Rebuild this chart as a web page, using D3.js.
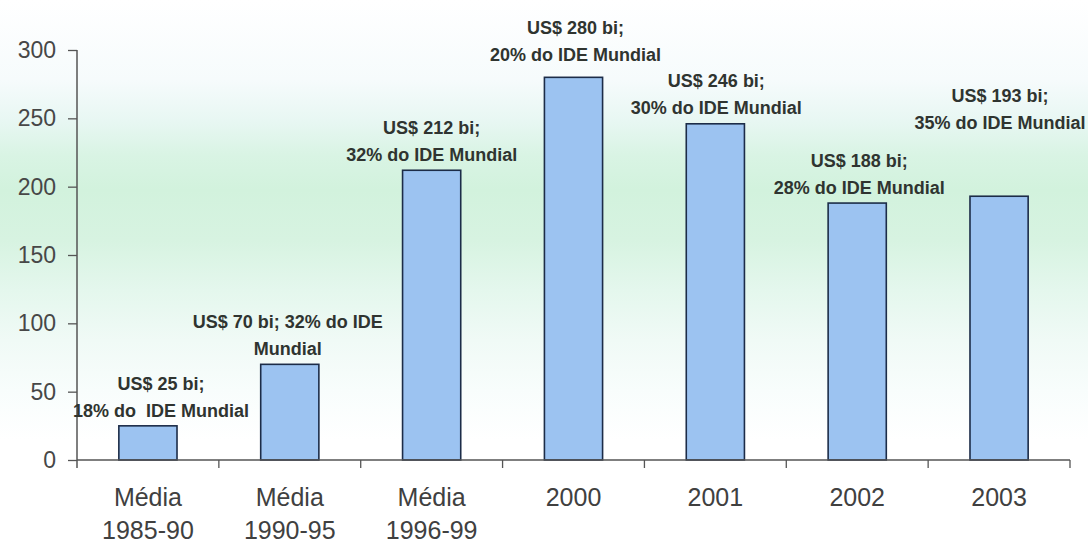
<!DOCTYPE html>
<html>
<head>
<meta charset="utf-8">
<script src="https://cdn.jsdelivr.net/npm/d3@7"></script>
<style>
  html, body { margin: 0; padding: 0; background: #fff; }
  svg { display: block; }
  text { white-space: pre; }
</style>
</head>
<body>
<svg id="chart" width="1088" height="544"></svg>
<script>
// ---- data ----
const categories = ["Média 1985-90", "Média 1990-95", "Média 1996-99", "2000", "2001", "2002", "2003"];
const catLine1 = ["Média", "Média", "Média", "2000", "2001", "2002", "2003"];
const catLine2 = ["1985-90", "1990-95", "1996-99", "", "", "", ""];
const values = [25, 70, 212, 280, 246, 188, 193];
const labelLine1 = ["US$ 25 bi;", "US$ 70 bi; 32% do IDE", "US$ 212 bi;", "US$ 280 bi;", "US$ 246 bi;", "US$ 188 bi;", "US$ 193 bi;"];
const labelLine2 = ["18% do  IDE Mundial", "Mundial", "32% do IDE Mundial", "20% do IDE Mundial", "30% do IDE Mundial", "28% do IDE Mundial", "35% do IDE Mundial"];
const yTicks = [0, 50, 100, 150, 200, 250, 300];

// ---- layout (label placement tweaks, not data) ----
const labelDx = [13, -2, 0, 2, 1, 2, 1];
const labelLift = [0, 0, 0, 7, 1, 0, 58];

(function () {
const svg = d3.select("#chart");
const W = 1088, H = 544;
const mLeft = 77, mRight = 1070, mTop = 50, mBottom = 460;

// background gradient
const defs = svg.append("defs");
const grad = defs.append("linearGradient").attr("id", "bg")
  .attr("gradientUnits", "userSpaceOnUse").attr("x1", 0).attr("y1", 0).attr("x2", 0).attr("y2", H);
[[0, "#ffffff"], [80, "#f6fbfc"], [120, "#e8f7f3"], [155, "#d9f4e4"], [190, "#d2f2dd"], [240, "#d7f3e1"],
 [290, "#e4f7ed"], [340, "#f0faf6"], [390, "#f8fdfc"], [440, "#ffffff"], [544, "#ffffff"]]
  .forEach(([p, c]) => grad.append("stop").attr("offset", p / H).attr("stop-color", c));
svg.append("rect").attr("width", W).attr("height", H).attr("fill", "url(#bg)");

const x = d3.scaleBand().domain(categories).range([mLeft, mRight]).paddingInner(0.59).paddingOuter(0.295);
const y = d3.scaleLinear().domain([0, 300]).range([mBottom, mTop]);
const step = x.step();

// bars
svg.append("g").selectAll("rect").data(values).join("rect")
  .attr("x", (d, i) => x(categories[i]))
  .attr("y", d => y(d))
  .attr("width", x.bandwidth())
  .attr("height", d => y(0) - y(d))
  .attr("fill", "#9cc3f1")
  .attr("stroke", "#1c2c48")
  .attr("stroke-width", 1.6);

// y axis
const yAxis = d3.axisLeft(y).tickValues(yTicks).tickSize(9).tickPadding(12);
const gy = svg.append("g").attr("transform", `translate(${mLeft},0)`).call(yAxis);
gy.select(".domain").remove();
gy.selectAll(".tick line").attr("stroke", "#555").attr("stroke-width", 1.3);
gy.selectAll(".tick text").attr("fill", "#474747").style("font-family", "Arial, 'Liberation Sans', sans-serif")
  .style("font-size", "23px");
svg.append("line").attr("x1", mLeft).attr("x2", mLeft).attr("y1", mTop).attr("y2", mBottom + 8)
  .attr("stroke", "#555").attr("stroke-width", 1.5);

// x axis line and ticks (at band boundaries)
svg.append("line").attr("x1", mLeft).attr("x2", mRight).attr("y1", mBottom).attr("y2", mBottom)
  .attr("stroke", "#555").attr("stroke-width", 1.5);
const boundary = (c, i) => i === categories.length - 1 ? mRight : x(c) + x.bandwidth() + step * x.paddingInner() / 2;
svg.append("g").selectAll("line").data(categories).join("line")
  .attr("x1", boundary).attr("x2", boundary)
  .attr("y1", mBottom).attr("y2", mBottom + 8)
  .attr("stroke", "#555").attr("stroke-width", 1.3);

// x labels
const xl = svg.append("g").style("font-family", "Arial, 'Liberation Sans', sans-serif")
  .style("font-size", "25px").attr("fill", "#404040").attr("text-anchor", "middle");
categories.forEach((c, i) => {
  const cx = x(c) + x.bandwidth() / 2;
  xl.append("text").attr("x", cx).attr("y", 506).text(catLine1[i]);
  if (catLine2[i]) xl.append("text").attr("x", cx).attr("y", 539).text(catLine2[i]);
});

// value annotations
const al = svg.append("g").style("font-family", "'Liberation Sans', Arial, sans-serif")
  .style("font-size", "18px").style("font-weight", "bold").attr("fill", "#2f3430").attr("text-anchor", "middle");
values.forEach((v, i) => {
  const cx = x(categories[i]) + x.bandwidth() / 2 + labelDx[i];
  const b2 = y(v) - 9 - labelLift[i];
  al.append("text").attr("x", cx).attr("y", b2 - 27).text(labelLine1[i]);
  al.append("text").attr("x", cx).attr("y", b2).text(labelLine2[i]);
});
})();
</script>
</body>
</html>
